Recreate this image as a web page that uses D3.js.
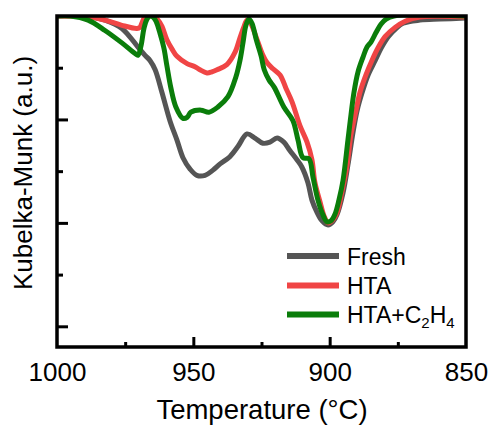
<!DOCTYPE html>
<html>
<head>
<meta charset="utf-8">
<script src="https://cdn.jsdelivr.net/npm/d3@7"></script>
<style>
  html, body { margin: 0; padding: 0; background: #fff; }
  svg { display: block; font-family: Arial, "Liberation Sans", sans-serif; }
</style>
</head>
<body>
<svg id="chart" width="493" height="425"></svg>
<script>
// Kubelka-Munk spectra vs. temperature (arbitrary units)
const freshT = [1000,991.6,987.2,982.4,976.2,970.3,967.7,965.9,964.0,961.5,958.5,956.0,953.8,951.2,948.7,945.7,942.8,940.2,936.6,933.6,930.3,927.4,924.5,921.9,919.3,916.8,914.6,912.0,910.2,908.0,906.5,904.6,902.8,900.6,898.8,897.3,895.1,893.3,891.4,889.9,888.1,885.9,883.3,881.1,878.5,875.6,873.1,866.9,859.5,850];
const freshV = [4.00,4.00,3.99,3.96,3.88,3.70,3.62,3.57,3.48,3.26,2.98,2.80,2.63,2.52,2.46,2.46,2.51,2.57,2.64,2.74,2.86,2.82,2.77,2.78,2.82,2.78,2.70,2.61,2.54,2.39,2.22,2.10,2.02,1.98,2.01,2.08,2.29,2.56,2.88,3.09,3.26,3.43,3.57,3.69,3.80,3.88,3.93,3.96,3.97,3.98];

const htaT = [1000,987.9,982.4,976.2,970.7,969.6,968.9,967.7,965.1,962.9,961.5,959.7,957.8,956.0,952.3,949.4,947.6,945.0,943.2,941.3,937.7,934.7,932.9,931.4,930.3,929.2,926.6,924.8,923.0,920.8,918.2,916.0,913.8,910.9,908.3,906.5,905.4,903.5,902.1,900.6,898.8,897.3,895.5,893.6,892.2,890.3,888.9,886.7,884.5,882.3,879.7,876.0,872.3,866.9,850];
const htaV = [4.00,3.99,3.96,3.91,3.88,3.89,3.93,3.99,4.00,3.96,3.90,3.77,3.68,3.61,3.54,3.51,3.48,3.45,3.46,3.48,3.53,3.65,3.79,3.90,3.96,3.94,3.77,3.64,3.55,3.49,3.43,3.30,3.17,2.94,2.78,2.61,2.39,2.20,2.07,2.00,2.03,2.10,2.30,2.56,2.85,3.09,3.26,3.43,3.57,3.69,3.80,3.89,3.95,3.99,3.99];

const ethT = [1000,995.2,988.6,982.4,976.2,971.5,970.3,969.2,968.1,967.0,965.9,964.8,963.7,962.2,960.8,959.7,958.2,956.4,953.8,952.3,950.9,947.2,944.3,941.0,937.3,934.4,932.9,931.8,930.7,929.6,928.5,926.9,925.1,924.0,922.2,920.3,916.8,913.5,911.6,909.8,907.6,906.1,904.3,902.5,901.0,899.5,898.1,896.6,895.1,893.3,892.2,891.1,889.6,887.8,886.3,884.8,883.0,881.2,879.3,876.4,850];
const ethV = [4.00,4.00,3.96,3.86,3.74,3.64,3.62,3.71,3.88,3.97,4.00,3.99,3.95,3.83,3.69,3.52,3.30,3.12,3.01,3.02,3.07,3.09,3.07,3.12,3.22,3.41,3.57,3.74,3.91,3.97,3.93,3.77,3.61,3.48,3.38,3.31,3.12,2.99,2.80,2.63,2.62,2.44,2.22,2.08,2.01,2.02,2.08,2.22,2.41,2.80,3.04,3.26,3.46,3.60,3.70,3.75,3.84,3.92,3.97,4.00,4.00];

const seriesNames = ["Fresh", "HTA", "HTA+C₂H₄"];
const seriesColors = ["#555555", "#f04545", "#0a7d0a"];
const xMajorTicks = [1000, 950, 900, 850];
const xMinorTicks = [975, 925, 875];
const yMajorTicks = [1, 2, 3];
const yMinorTicks = [1.5, 2.5, 3.5];

const series = [
  { name: seriesNames[0], color: seriesColors[0], pts: freshT.map((t, i) => [t, freshV[i]]) },
  { name: seriesNames[1], color: seriesColors[1], pts: htaT.map((t, i) => [t, htaV[i]]) },
  { name: seriesNames[2], color: seriesColors[2], pts: ethT.map((t, i) => [t, ethV[i]]) }
];

const svg = d3.select("#chart");
const L = 57, R = 466, T = 16, B = 347;

const x = d3.scaleLinear().domain([1000, 850]).range([L, R]);
const y = d3.scaleLinear().domain([0.8, 4]).range([B, T]);

svg.append("defs").append("clipPath").attr("id", "plot")
  .append("rect").attr("x", L).attr("y", T).attr("width", R - L).attr("height", B - T);

const line = d3.line()
  .x(d => x(d[0]))
  .y(d => y(d[1]))
  .curve(d3.curveCatmullRom.alpha(0.5));

const curves = svg.append("g").attr("clip-path", "url(#plot)");
series.forEach(s => {
  curves.append("path")
    .attr("d", line(s.pts))
    .attr("fill", "none")
    .attr("stroke", s.color)
    .attr("stroke-width", 5)
    .attr("stroke-linejoin", "round")
    .attr("stroke-linecap", "round");
});

// Axes with inward ticks
function styleAxis(g) {
  g.select(".domain").remove();
  g.selectAll(".tick line").attr("stroke", "#000").attr("stroke-width", 3);
}

svg.append("g").attr("transform", `translate(0,${B})`)
  .call(d3.axisBottom(x).tickValues(xMinorTicks).tickSize(-5).tickFormat(""))
  .call(styleAxis);

const xAxis = svg.append("g").attr("transform", `translate(0,${B})`)
  .call(d3.axisBottom(x).tickValues(xMajorTicks).tickSize(-10).tickPadding(16).tickFormat(d3.format("d")))
  .call(styleAxis);
xAxis.selectAll(".tick text")
  .attr("font-size", 26).attr("font-family", "Arial, 'Liberation Sans', sans-serif").attr("fill", "#000");
xAxis.selectAll(".tick line").filter(d => d === 1000 || d === 850).remove();

svg.append("g").attr("transform", `translate(${L},0)`)
  .call(d3.axisLeft(y).tickValues(yMinorTicks).tickSize(-6).tickFormat(""))
  .call(styleAxis);
svg.append("g").attr("transform", `translate(${L},0)`)
  .call(d3.axisLeft(y).tickValues(yMajorTicks).tickSize(-11).tickFormat(""))
  .call(styleAxis);

// Frame
svg.append("rect")
  .attr("x", L).attr("y", T).attr("width", R - L).attr("height", B - T)
  .attr("fill", "none").attr("stroke", "#000").attr("stroke-width", 3.5);

// Axis titles
svg.append("text")
  .attr("x", 262).attr("y", 419)
  .attr("text-anchor", "middle").attr("font-size", 27.5).attr("fill", "#000")
  .text("Temperature (°C)");

svg.append("text")
  .attr("transform", `translate(32,173) rotate(-90)`)
  .attr("text-anchor", "middle").attr("font-size", 26).attr("fill", "#000")
  .text("Kubelka-Munk (a.u.)");

// Legend
const legend = svg.append("g");
const legendY = [256, 285.5, 314.5];
series.forEach((s, i) => {
  legend.append("line")
    .attr("x1", 287).attr("x2", 339)
    .attr("y1", legendY[i]).attr("y2", legendY[i])
    .attr("stroke", s.color).attr("stroke-width", 6);
});
const lt = (i) => legend.append("text")
  .attr("x", 347).attr("y", legendY[i] + 8.5)
  .attr("font-size", 23).attr("fill", "#000");
lt(0).text("Fresh");
lt(1).text("HTA");
const t3 = lt(2);
t3.append("tspan").text("HTA+C");
t3.append("tspan").attr("font-size", 15).attr("dy", 5).text("2");
t3.append("tspan").attr("dy", -5).text("H");
t3.append("tspan").attr("font-size", 15).attr("dy", 5).text("4");
</script>
</body>
</html>
